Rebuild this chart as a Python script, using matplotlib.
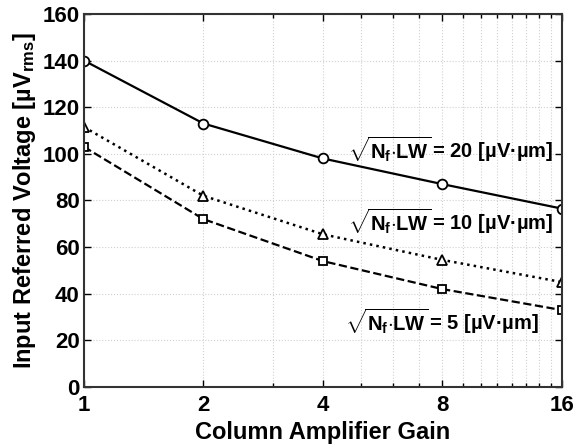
import matplotlib
matplotlib.use('Agg')
import matplotlib.pyplot as plt
from matplotlib.ticker import FixedLocator, NullFormatter

plt.rcParams['font.family'] = ['Liberation Sans', 'DejaVu Sans']
plt.rcParams['font.weight'] = 'bold'
plt.rcParams['mathtext.fontset'] = 'custom'
plt.rcParams['mathtext.rm'] = 'Liberation Sans:bold'
plt.rcParams['mathtext.it'] = 'Liberation Sans:bold'
plt.rcParams['mathtext.bf'] = 'Liberation Sans:bold'

gain = [1, 2, 4, 8, 16]
noise_20 = [140, 113, 98, 87, 76.5]
noise_10 = [111.5, 82, 65.5, 54.5, 45]
noise_5 = [103, 72, 54, 42, 33]

labels = [r'$\sqrt{N_f{\cdot}LW}\,$= 20 [µV·µm]',
          r'$\sqrt{N_f{\cdot}LW}\,$= 10 [µV·µm]',
          r'$\sqrt{N_f{\cdot}LW}\,$= 5 [µV·µm]']

fig = plt.figure(figsize=(5.83, 4.48), dpi=100)
ax = fig.add_axes([0.144, 0.136, 0.820, 0.833])

ax.plot(gain, noise_20, color='black', linestyle='-', linewidth=1.6,
        marker='o', markersize=7, markerfacecolor='white', markeredgewidth=1.3)
ax.plot(gain, noise_10, color='black', linestyle=':', linewidth=1.8,
        marker='^', markersize=7, markerfacecolor='white', markeredgewidth=1.3)
ax.plot(gain, noise_5, color='black', linestyle='--', linewidth=1.6,
        marker='s', markersize=5.5, markerfacecolor='white', markeredgewidth=1.3)

ax.set_xscale('log', base=2)
ax.set_xlim(1, 16)
ax.set_ylim(0, 160)
ax.set_xticks(gain)
ax.set_xticklabels([str(g) for g in gain])
ax.xaxis.set_minor_locator(FixedLocator([3, 5, 6, 7, 9, 10, 11, 12, 13, 14, 15]))
ax.xaxis.set_minor_formatter(NullFormatter())
ax.set_yticks(range(0, 161, 20))

ax.grid(True, which='both', linestyle=':', color='#d0d0d0', linewidth=0.8)
ax.tick_params(which='both', direction='in', top=True, right=True,
               labelsize=16, width=1.0, pad=3)
ax.tick_params(axis='x', pad=6)
ax.tick_params(which='major', length=5)
ax.tick_params(which='minor', length=3)
for s in ax.spines.values():
    s.set_linewidth(1.5)
    s.set_color('#333333')

ax.set_xlabel('Column Amplifier Gain', fontsize=17, fontweight='bold', labelpad=3)
ax.set_ylabel(r'Input Referred Voltage [µV$_{rms}$]', fontsize=17,
              fontweight='bold', labelpad=3)

ax.text(15.2, 102, labels[0], fontsize=14.5, ha='right', va='center')
ax.text(15.2, 71, labels[1], fontsize=14.5, ha='right', va='center')
ax.text(14.0, 28.5, labels[2], fontsize=14.5, ha='right', va='center')

fig.savefig('out.png', dpi=100)
